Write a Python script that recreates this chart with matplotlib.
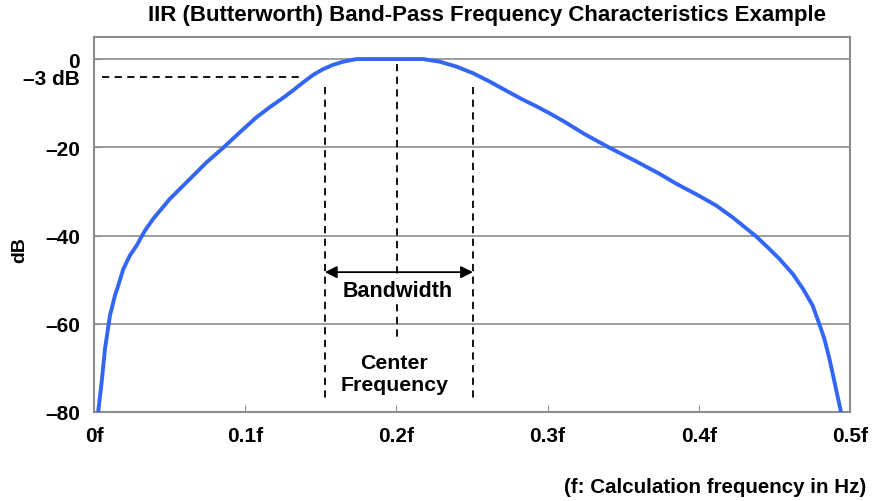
import matplotlib.pyplot as plt

# band-pass response
freq = [0.0028, 0.0051, 0.0073, 0.0106, 0.0139, 0.0161, 0.0194, 0.0238, 0.0282,
        0.0337, 0.0392, 0.0502, 0.0634, 0.0745, 0.0855, 0.0965, 0.1075, 0.1163,
        0.1251, 0.1317, 0.1383, 0.1449, 0.1515, 0.1582, 0.1648, 0.1736, 0.189,
        0.2, 0.2177, 0.2287, 0.2397, 0.2507, 0.2617, 0.275, 0.2837, 0.2926,
        0.3014, 0.3102, 0.3245, 0.341, 0.3576, 0.374, 0.3854, 0.4003, 0.4116,
        0.4225, 0.438, 0.4457, 0.4534, 0.4622, 0.469, 0.4754, 0.4798, 0.4831,
        0.4865, 0.4898, 0.4941]
gain_db = [-80, -73.2, -65.7, -58.1, -53.6, -51.3, -47.6, -44.5, -42.3,
           -38.9, -36.2, -31.7, -27.2, -23.4, -20.1, -16.6, -13.2, -10.9,
           -8.8, -7.1, -5.3, -3.6, -2.3, -1.3, -0.6, 0, 0,
           0, 0, -0.6, -1.7, -3.2, -5.1, -7.6, -9.2, -10.7,
           -12.3, -14.0, -17.0, -20.1, -23.0, -26.0, -28.3, -31.0, -33.2,
           -35.9, -40.2, -42.7, -45.3, -48.7, -52.1, -55.9, -60.1, -63.4,
           -68, -73.2, -80]

x_ticks = [0, 0.1, 0.2, 0.3, 0.4, 0.5]
x_labels = ['0f', '0.1f', '0.2f', '0.3f', '0.4f', '0.5f']
y_ticks = [0, -20, -40, -60, -80]
y_labels = ['0', '\u201320', '\u201340', '\u201360', '\u201380']

f_low, f_center, f_high = 0.1527, 0.2007, 0.2507
cut_db = -4

plt.rcParams['font.family'] = ['Liberation Sans', 'DejaVu Sans']
plt.rcParams['font.weight'] = 'bold'

fig = plt.figure(figsize=(8.78, 5.02), dpi=100)
ax = fig.add_axes([0.107, 0.1773, 0.861, 0.747])

grey = '#8c8c8c'
for y in y_ticks[:-1]:
    ax.axhline(y, color=grey, lw=1.2, zorder=1)

ax.plot(freq, gain_db, color='#3366f5', lw=2.8, zorder=3,
        solid_capstyle='butt', solid_joinstyle='round')

dash = dict(color='black', lw=1.3, ls=(0, (4, 3)), zorder=2)
ax.plot([0.005, 0.136], [cut_db, cut_db], **dash)
ax.plot([f_low, f_low], [-6.3, -77.5], **dash)
ax.plot([f_high, f_high], [-6.3, -77.5], **dash)
ax.plot([f_center, f_center], [-1.2, -63.0], **dash)

ax.annotate('', xy=(f_low, -48.3), xytext=(f_high, -48.3),
            arrowprops=dict(arrowstyle='<|-|>', color='black', lw=1.3,
                            mutation_scale=18, shrinkA=0, shrinkB=0))
ax.text(f_center, -52.5, 'Bandwidth', ha='center', va='center', fontsize=15.5,
        fontweight='bold', bbox=dict(fc='white', ec='none', pad=1))
ax.text(f_center - 0.002, -71.3, 'Center\nFrequency', ha='center', va='center',
        fontsize=15.3, fontweight='bold', linespacing=1.25,
        bbox=dict(fc='white', ec='none', pad=1))

ax.set_xlim(0, 0.5)
ax.set_ylim(-80, 5)
ax.set_xticks(x_ticks)
ax.set_xticklabels(x_labels)
ax.set_yticks(y_ticks)
ax.set_yticklabels(y_labels)
ax.tick_params(direction='in', length=5, color=grey, labelsize=15, pad=10)
for s in ax.spines.values():
    s.set_color(grey)
    s.set_linewidth(1.5)

ax.text(-0.0095, cut_db - 0.5, '\u20133 dB', ha='right', va='center', fontsize=15,
        fontweight='bold', clip_on=False)
fig.text(0.023, 0.502, 'dB', rotation=90, ha='center', va='center',
         fontsize=14, fontweight='bold')

fig.text(0.555, 0.970, 'IIR (Butterworth) Band-Pass Frequency Characteristics Example',
         ha='center', va='center', fontsize=16, fontweight='bold')
fig.text(0.987, 0.028, '(f: Calculation frequency in Hz)', ha='right', va='center',
         fontsize=14.8, fontweight='bold')

fig.savefig('out.png', dpi=100)
